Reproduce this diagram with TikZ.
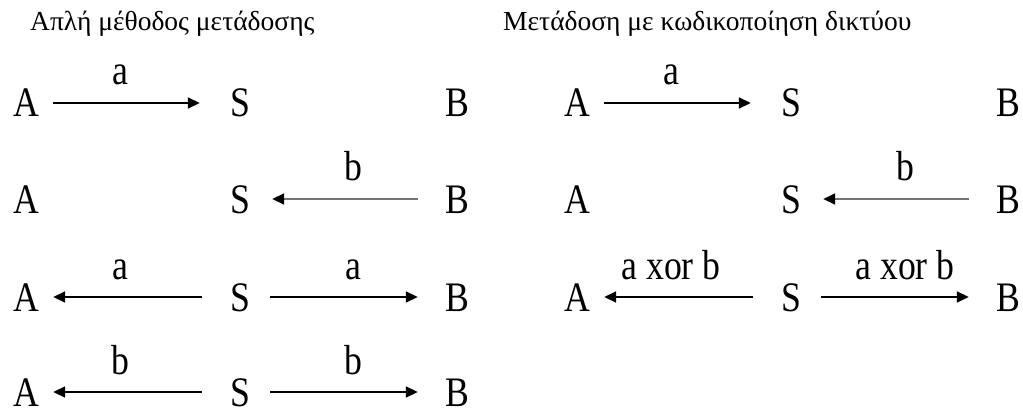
\documentclass[tikz,border=0pt]{standalone}
\usepackage{fontspec}
\usepackage{graphicx}
\setmainfont{Liberation Serif}
\usetikzlibrary{arrows.meta}
\newcommand{\bigtxt}{\fontsize{42}{48}\selectfont}
\newcommand{\sqz}[1]{\scalebox{0.85}[1]{#1}}
\newcommand{\titletxt}{\fontsize{27.5}{32}\selectfont}
\tikzset{
  letter/.style={font=\bigtxt, inner sep=0pt, minimum width=26pt, text height=28pt, text depth=0pt, anchor=center},
  lab/.style={font=\bigtxt, inner sep=0pt, anchor=base},
  ttl/.style={font=\titletxt, inner sep=0pt, anchor=base west},
  arr/.style={line width=1.7pt, -{Triangle[length=12pt,width=11pt]}},
  garr/.style={line width=1.7pt, draw=black!55, -{Triangle[length=12pt,width=11pt,color=black]}},
}
\begin{document}
\begin{tikzpicture}[x=1pt,y=-1pt]
\useasboundingbox (0,0) rectangle (1023,409);
% titles
\node[ttl] (t1) at (30,31) {Απλή μέθοδος μετάδοσης};
\node[ttl] (t2) at (503,31) {Μετάδοση με κωδικοποίηση δικτύου};
% left panel
\foreach \r/\y in {1/103,2/199,3/297,4/392}{
  \node[letter] (LA\r) at (26,\y) {\sqz{A}};
  \node[letter] (LS\r) at (240,\y) {\sqz{S}};
  \node[letter] (LB\r) at (457,\y) {\sqz{B}};
}
\foreach \r/\y in {1/103,2/199,3/297}{
  \node[letter] (RA\r) at (577,\y) {\sqz{A}};
  \node[letter] (RS\r) at (791,\y) {\sqz{S}};
  \node[letter] (RB\r) at (1008,\y) {\sqz{B}};
}
% left arrows
\draw[arr, shorten <=14pt, shorten >=27pt] (LA1) -- (LS1);
\draw[garr, shorten <=26pt, shorten >=19pt] (LB2) -- (LS2);
\draw[arr, shorten <=25pt, shorten >=14pt] (LS3) -- (LA3);
\draw[arr, shorten <=17pt, shorten >=26pt] (LS3) -- (LB3);
\draw[arr, shorten <=25pt, shorten >=14pt] (LS4) -- (LA4);
\draw[arr, shorten <=17pt, shorten >=26pt] (LS4) -- (LB4);
% right arrows
\draw[arr, shorten <=14pt, shorten >=27pt] (RA1) -- (RS1);
\draw[garr, shorten <=26pt, shorten >=19pt] (RB2) -- (RS2);
\draw[arr, shorten <=25pt, shorten >=14pt] (RS3) -- (RA3);
\draw[arr, shorten <=17pt, shorten >=26pt] (RS3) -- (RB3);
% labels
\node[lab] (l1) at (120,85) {\sqz{a}};
\node[lab] (l2) at (353,181) {\sqz{b}};
\node[lab] (l3) at (120,279) {\sqz{a}};
\node[lab] (l4) at (353,279) {\sqz{a}};
\node[lab] (l5) at (120,374) {\sqz{b}};
\node[lab] (l6) at (353,374) {\sqz{b}};
\node[lab] (r1) at (671,85) {\sqz{a}};
\node[lab] (r2) at (905,181) {\sqz{b}};
\node[lab] (r3) at (671,279) {\sqz{a xor b}};
\node[lab] (r4) at (905,279) {\sqz{a xor b}};
\end{tikzpicture}
\end{document}
